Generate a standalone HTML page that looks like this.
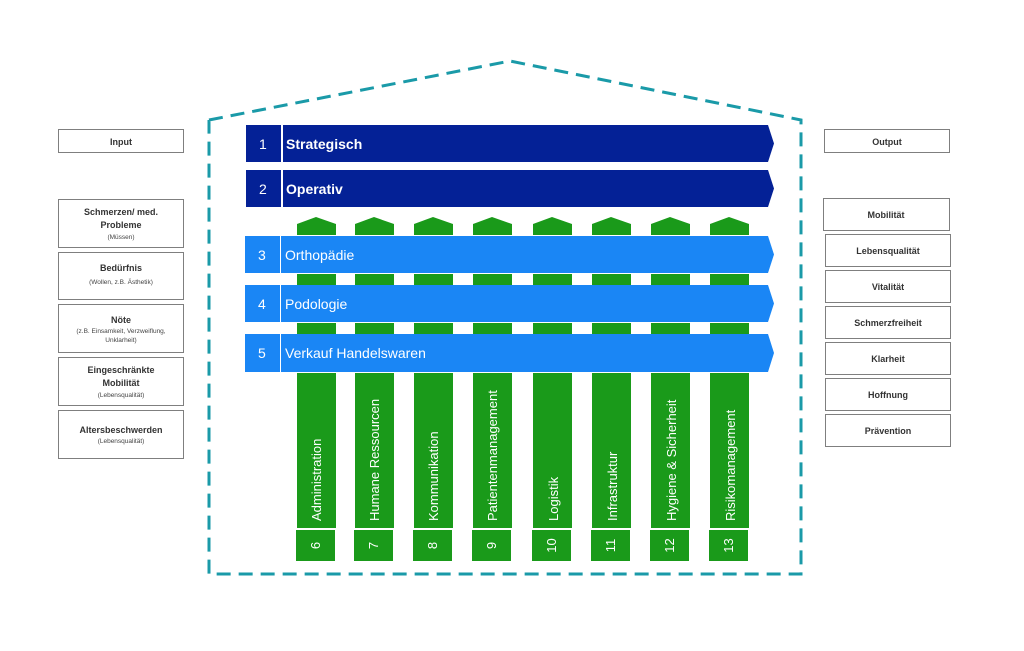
<!DOCTYPE html>
<html><head><meta charset="utf-8"><style>
html,body{margin:0;padding:0;background:#fff;}
svg{display:block;font-family:"Liberation Sans",sans-serif;}
</style></head><body>
<svg width="1024" height="651" viewBox="0 0 1024 651" xmlns="http://www.w3.org/2000/svg">
<polyline points="209,120 510,61 801,120 801,574 209,574 209,120" fill="none" stroke="#1a9aa8" stroke-width="3" stroke-dasharray="14,8"/>
<g fill="#fff" stroke="#7f7f7f" stroke-width="1">
<rect x="58.5" y="129.5" width="125" height="23"/>
<rect x="58.5" y="199.5" width="125" height="48"/>
<rect x="58.5" y="252.5" width="125" height="47"/>
<rect x="58.5" y="304.5" width="125" height="48"/>
<rect x="58.5" y="357.5" width="125" height="48"/>
<rect x="58.5" y="410.5" width="125" height="48"/>
<rect x="824.5" y="129.5" width="125" height="23"/>
<rect x="823.5" y="198.5" width="126" height="32"/>
<rect x="825.5" y="234.5" width="125" height="32"/>
<rect x="825.5" y="270.5" width="125" height="32"/>
<rect x="825.5" y="306.5" width="125" height="32"/>
<rect x="825.5" y="342.5" width="125" height="32"/>
<rect x="825.5" y="378.5" width="125" height="32"/>
<rect x="825.5" y="414.5" width="125" height="32"/>
</g>
<g fill="#333" font-weight="bold" font-size="9" text-anchor="middle">
<text x="121" y="145">Input</text>
<text x="121" y="215">Schmerzen/ med.</text>
<text x="121" y="228">Probleme</text>
<text x="121" y="271">Bedürfnis</text>
<text x="121" y="323">Nöte</text>
<text x="121" y="373">Eingeschränkte</text>
<text x="121" y="386">Mobilität</text>
<text x="121" y="433">Altersbeschwerden</text>
<text x="887" y="145">Output</text>
<text x="886" y="218">Mobilität</text>
<text x="888" y="254">Lebensqualität</text>
<text x="888" y="290">Vitalität</text>
<text x="888" y="326">Schmerzfreiheit</text>
<text x="888" y="362">Klarheit</text>
<text x="888" y="398">Hoffnung</text>
<text x="888" y="434">Prävention</text>
</g>
<g fill="#444" font-size="6.5" text-anchor="middle">
<text x="121" y="239">(Müssen)</text>
<text x="121" y="284">(Wollen, z.B. Ästhetik)</text>
<text x="121" y="333">(z.B. Einsamkeit, Verzweiflung,</text>
<text x="121" y="342">Unklarheit)</text>
<text x="121" y="397">(Lebensqualität)</text>
<text x="121" y="443">(Lebensqualität)</text>
</g>
<g fill="#1a9a1a">
<g id="c">
<polygon points="297,224 316,217 336,224 336,235 297,235"/>
<rect x="297" y="274" width="39" height="11"/>
<rect x="297" y="323" width="39" height="11"/>
<rect x="297" y="373" width="39" height="155"/>
<rect x="296" y="530" width="39" height="31"/>
</g>
<use href="#c" x="58"/><use href="#c" x="117"/><use href="#c" x="176"/><use href="#c" x="236"/><use href="#c" x="295"/><use href="#c" x="354"/><use href="#c" x="413"/>
</g>
<g fill="#042196">
<rect x="246" y="125" width="35" height="37"/><polygon points="283,125 768,125 774,143.5 768,162 283,162"/>
<rect x="246" y="170" width="35" height="37"/><polygon points="283,170 768,170 774,188.5 768,207 283,207"/>
</g>
<g fill="#1a86f5">
<rect x="245" y="236" width="35" height="37"/><polygon points="281,236 768,236 774,254.5 768,273 281,273"/>
<rect x="245" y="285" width="35" height="37"/><polygon points="281,285 768,285 774,303.5 768,322 281,322"/>
<rect x="245" y="334" width="35" height="38"/><polygon points="281,334 768,334 774,353 768,372 281,372"/>
</g>
<g fill="#fff" font-size="14">
<text x="259" y="149">1</text><text x="286" y="149" font-weight="bold">Strategisch</text>
<text x="259" y="194">2</text><text x="286" y="194" font-weight="bold">Operativ</text>
<text x="258" y="260">3</text><text x="285" y="260">Orthopädie</text>
<text x="258" y="309">4</text><text x="285" y="309">Podologie</text>
<text x="258" y="358">5</text><text x="285" y="358">Verkauf Handelswaren</text>
</g>
<g fill="#fff" font-size="13">
<text transform="translate(321,521) rotate(-90)">Administration</text>
<text transform="translate(379,521) rotate(-90)">Humane Ressourcen</text>
<text transform="translate(438,521) rotate(-90)">Kommunikation</text>
<text transform="translate(497,521) rotate(-90)">Patientenmanagement</text>
<text transform="translate(558,521) rotate(-90)">Logistik</text>
<text transform="translate(617,521) rotate(-90)">Infrastruktur</text>
<text transform="translate(676,521) rotate(-90)">Hygiene &amp; Sicherheit</text>
<text transform="translate(735,521) rotate(-90)">Risikomanagement</text>
</g>
<g fill="#fff" font-size="13" text-anchor="middle">
<text transform="translate(320,545.5) rotate(-90)">6</text>
<text transform="translate(378,545.5) rotate(-90)">7</text>
<text transform="translate(437,545.5) rotate(-90)">8</text>
<text transform="translate(496,545.5) rotate(-90)">9</text>
<text transform="translate(556,545.5) rotate(-90)">10</text>
<text transform="translate(615,545.5) rotate(-90)">11</text>
<text transform="translate(674,545.5) rotate(-90)">12</text>
<text transform="translate(733,545.5) rotate(-90)">13</text>
</g>
</svg>
</body></html>
